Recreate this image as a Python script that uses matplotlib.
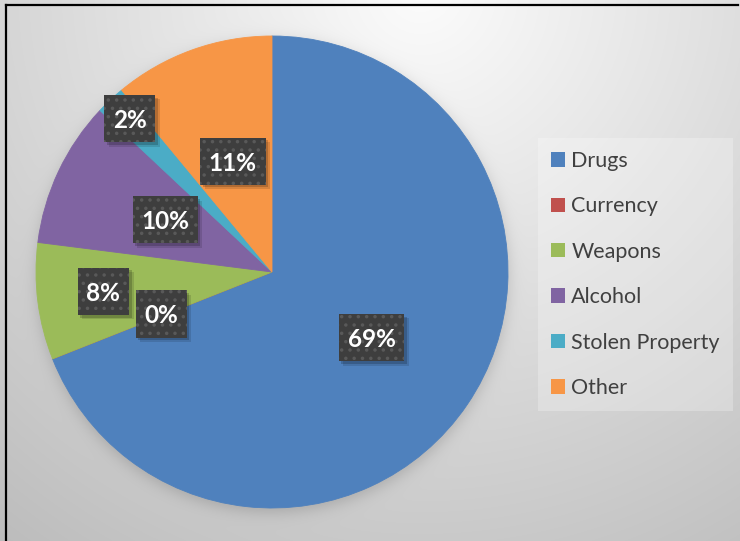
import numpy as np
import matplotlib
matplotlib.use("Agg")
import matplotlib.pyplot as plt
import matplotlib.patheffects as pe
from matplotlib.patches import Patch
from matplotlib.lines import Line2D
from matplotlib.path import Path

# Seized item categories and their share of the total (percent)
categories = ["Drugs", "Currency", "Weapons", "Alcohol", "Stolen Property", "Other"]
shares = [69, 0, 8, 10, 2, 11]
colors = ["#4F81BD", "#C0504D", "#9BBB59", "#8064A2", "#4BACC6", "#F79646"]

# radial position (fraction of pie radius) of each data label
label_radii = [0.51, 0.505, 0.72, 0.50, 0.88, 0.49]

plt.rcParams["hatch.linewidth"] = 1.3

W, H, DPI = 740, 541, 100
fig = plt.figure(figsize=(W / DPI, H / DPI), dpi=DPI)

# pie geometry in pixels (centre measured from the top-left corner)
cx, cy, R = 272, 272, 236

# soft grey gradient background with a blurred drop shadow under the pie
yy, xx = np.mgrid[0:H, 0:W]
dist = np.hypot(xx - 420, yy + 10)
base = np.clip(252 - 0.092 * dist, 0, 255) / 255.0
dpie = np.hypot(xx - cx, yy - (cy + 4))
shadow = 0.5 * (1 - np.tanh((dpie - R) / 9.0))
base = base * (1 - 0.17 * shadow)
bg = fig.add_axes([0, 0, 1, 1])
bg.imshow(np.dstack([base] * 3), aspect="auto", interpolation="bilinear")
bg.axis("off")

# pie
ax = fig.add_axes([(cx - R) / W, (H - cy - R) / H, 2 * R / W, 2 * R / H])
wedges, _ = ax.pie(shares, colors=colors, startangle=90, counterclock=False,
                   radius=1, wedgeprops=dict(linewidth=0.6))
for w, c in zip(wedges, colors):
    w.set_edgecolor(c)
ax.set_xlim(-1, 1)
ax.set_ylim(-1, 1)
ax.axis("off")


def label_box(x0, y0, width, height, mutation_size,
              padx=0.36, pad_top=0.58, pad_bottom=0.42):
    """Rectangular box with separate horizontal, top and bottom padding."""
    px = padx * mutation_size
    xa, x1 = x0 - px, x0 + width + px
    ya, y1 = y0 - pad_bottom * mutation_size, y0 + height + pad_top * mutation_size
    return Path([(xa, ya), (x1, ya), (x1, y1), (xa, y1), (xa, ya)],
                [Path.MOVETO, Path.LINETO, Path.LINETO, Path.LINETO, Path.CLOSEPOLY])


# data labels: dark dotted boxes with a soft drop shadow
label_font = dict(family="Lato", size=17.5, weight="bold")
box_shadow = [
    pe.SimplePatchShadow(offset=(3.2, -3.2), shadow_rgbFace="black", alpha=0.12, hatch=None),
    pe.SimplePatchShadow(offset=(1.8, -1.8), shadow_rgbFace="black", alpha=0.18, hatch=None),
    pe.Normal(),
]
for w, v, r in zip(wedges, shares, label_radii):
    ang = np.deg2rad((w.theta1 + w.theta2) / 2)
    x, y = r * np.cos(ang), r * np.sin(ang)
    t = ax.text(x, y, f"{v}%", ha="center", va="center", color="white",
                fontdict=label_font,
                bbox=dict(boxstyle=label_box, fc="#3e3e3e", ec="#595959",
                          lw=0, hatch=".."))
    t.get_bbox_patch().set_path_effects(box_shadow)

# legend
handles = [Patch(facecolor=c, edgecolor="none") for c in colors]
leg = fig.legend(handles, categories, loc="upper left",
                 bbox_to_anchor=(538 / W, 1 - 138 / H),
                 prop=dict(family="Lato", size=15.5), labelcolor="#404040",
                 handlelength=0.65, handleheight=0.65, handletextpad=0.3,
                 labelspacing=1.18, borderpad=0.6, borderaxespad=0,
                 fancybox=False, frameon=True, framealpha=0.25)
leg.get_frame().set_facecolor("white")
leg.get_frame().set_edgecolor("none")

# chart border (left and top edges)
fig.add_artist(Line2D([6 / W, 6 / W], [0, 1 - 5 / H], transform=fig.transFigure,
                      color="black", lw=1.6))
fig.add_artist(Line2D([6 / W, 738 / W], [1 - 5 / H, 1 - 5 / H], transform=fig.transFigure,
                      color="black", lw=1.6))

fig.savefig("out.png", dpi=DPI)
